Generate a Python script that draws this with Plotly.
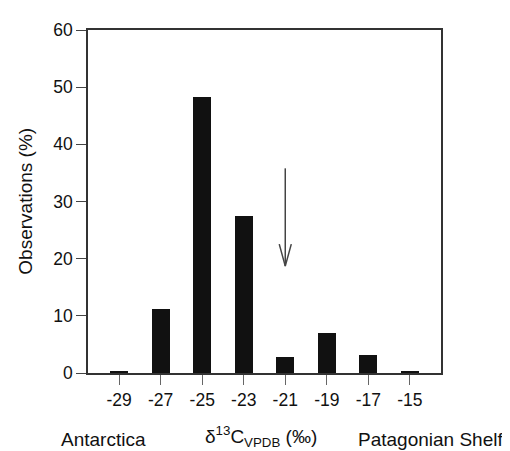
import plotly.graph_objects as go

# Data
delta13c = [-29, -27, -25, -23, -21, -19, -17, -15]
observations_pct = [0.4, 11.2, 48.2, 27.4, 2.8, 7.0, 3.1, 0.4]
y_ticks = [0, 10, 20, 30, 40, 50, 60]
x_ticks = [-29, -27, -25, -23, -21, -19, -17, -15]

# Arrow (data units)
arrow_x = -21
arrow_top = 35.8
arrow_tip = 18.7
head_half_w = 0.29
head_len = 3.85

FONT = "Liberation Sans, Arial, Helvetica, sans-serif"

fig = go.Figure()
fig.add_trace(go.Bar(
    x=delta13c, y=observations_pct, width=0.87,
    marker=dict(color="#111111", line=dict(width=0)),
    showlegend=False, hoverinfo="skip",
))
fig.add_trace(go.Scatter(
    x=[arrow_x, arrow_x, None, arrow_x - head_half_w, arrow_x, arrow_x + head_half_w],
    y=[arrow_top, arrow_tip, None, arrow_tip + head_len, arrow_tip, arrow_tip + head_len],
    mode="lines", line=dict(color="#444444", width=1.5),
    showlegend=False, hoverinfo="skip",
))

# page body has an 8px margin, so the figure is sized to the remaining area
fig.update_layout(
    width=502, height=443,
    margin=dict(l=80, r=69, t=13, b=78),
    paper_bgcolor="white", plot_bgcolor="white",
    font=dict(family=FONT, color="#111111"),
    bargap=0,
)
fig.update_xaxes(
    range=[-30.5, -13.5], tickmode="array", tickvals=x_ticks,
    ticktext=[str(v) for v in x_ticks],
    ticks="outside", ticklen=10, tickcolor="#666666", tickwidth=1.2,
    showline=True, linecolor="#333333", linewidth=1.5, mirror=True,
    showgrid=False, zeroline=False,
    tickfont=dict(size=17.5, family=FONT, color="#111111"),
)
fig.update_yaxes(
    range=[0, 60], tickmode="array", tickvals=y_ticks,
    ticks="outside", ticklen=10, tickcolor="#444444", tickwidth=1.2,
    showline=True, linecolor="#333333", linewidth=1.5, mirror=True,
    showgrid=False, zeroline=False,
    tickfont=dict(size=17.5, family=FONT, color="#111111"),
)

ann_font = dict(size=19, family=FONT, color="#111111")
fig.add_annotation(text="Observations (%)", textangle=-90, xref="paper", yref="paper",
                   x=-0.178, y=0.5, xanchor="center", yanchor="middle",
                   showarrow=False, font=ann_font)
fig.add_annotation(text="Antarctica", xref="paper", yref="paper",
                   x=0.0425, y=-0.193, xanchor="center", yanchor="middle",
                   showarrow=False, font=ann_font)
fig.add_annotation(text="δ<sup>13</sup>C<sub>VPDB</sub> (‰)", xref="paper", yref="paper",
                   x=0.49, y=-0.185, xanchor="center", yanchor="middle",
                   showarrow=False, font=ann_font)
fig.add_annotation(text="Patagonian Shelf", xref="paper", yref="paper",
                   x=0.969, y=-0.193, xanchor="center", yanchor="middle",
                   showarrow=False, font=ann_font)

fig.write_html("out.html")
